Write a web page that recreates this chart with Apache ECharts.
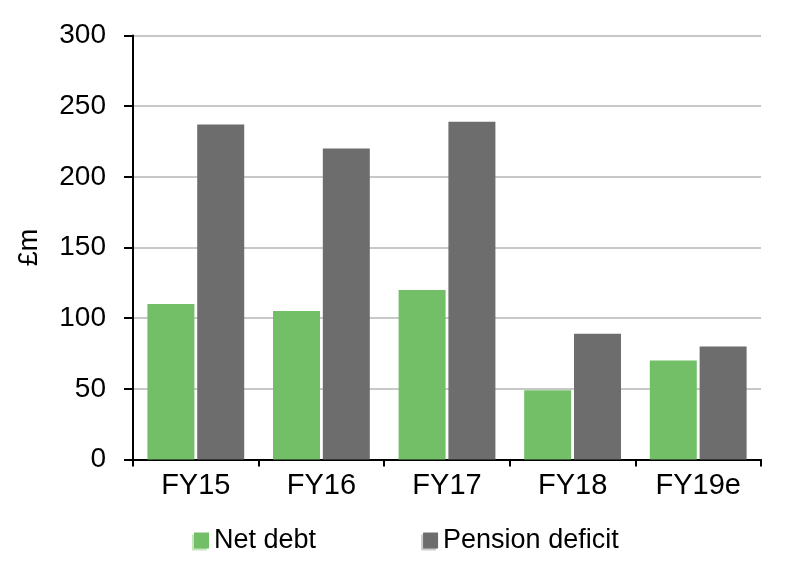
<!DOCTYPE html>
<html><head><meta charset="utf-8">
<script src="https://cdn.jsdelivr.net/npm/echarts@6/dist/echarts.min.js"></script>
<style>html,body{margin:0;padding:0;background:#fff}#c{width:800px;height:580px}</style>
</head><body><div id="c"></div>
<script>
const categories = ['FY15','FY16','FY17','FY18','FY19e'];
const netDebt = [110, 105, 120, 49, 70];
const pensionDeficit = [237, 220, 239, 89, 80];
const yTicks = [0, 50, 100, 150, 200, 250, 300];

const FONT = '"Liberation Sans", Arial, sans-serif';
const chart = echarts.init(document.getElementById('c'), null, {renderer:'canvas'});
chart.setOption({
  animation: false,
  textStyle: {fontFamily: FONT},
  grid: {left: 133, right: 39, top: 35.5, bottom: 120.5},
  legend: {
    left: 189, top: 522, itemWidth: 15, itemHeight: 16, itemGap: 107,
    textStyle: {fontFamily: FONT, fontSize: 27, color: '#000'},
    data: [
      {name: 'Net debt', icon: 'rect', itemStyle: {color: '#72bf67', shadowColor: '#c5e6bf', shadowOffsetX: -2, shadowOffsetY: 2, shadowBlur: 0}},
      {name: 'Pension deficit', icon: 'rect', itemStyle: {color: '#6d6d6d', shadowColor: '#cccccc', shadowOffsetX: -2, shadowOffsetY: 2, shadowBlur: 0}}
    ]
  },
  xAxis: {
    type: 'category', data: categories,
    axisLine: {lineStyle: {color: '#000', width: 2}},
    axisTick: {show: true, length: 7, lineStyle: {color: '#000', width: 2}},
    axisLabel: {fontFamily: FONT, fontSize: 29, color: '#000', margin: 12}
  },
  yAxis: {
    type: 'value', min: yTicks[0], max: yTicks[yTicks.length-1], interval: 50,
    name: '£m', nameLocation: 'middle', nameGap: 90,
    nameTextStyle: {fontFamily: FONT, fontSize: 27, color: '#000'},
    axisLine: {show: true, lineStyle: {color: '#000', width: 2}},
    axisTick: {show: true, length: 9, lineStyle: {color: '#000', width: 2}},
    axisLabel: {fontFamily: FONT, fontSize: 28, color: '#000', margin: 27},
    splitLine: {lineStyle: {color: '#c8c8c8', width: 2}}
  },
  series: [
    {name: 'Net debt', type: 'bar', data: netDebt, barWidth: 47, barGap: '6%',
     itemStyle: {color: '#72bf67'}},
    {name: 'Pension deficit', type: 'bar', data: pensionDeficit, barWidth: 47,
     itemStyle: {color: '#6d6d6d'}}
  ]
});
</script></body></html>
